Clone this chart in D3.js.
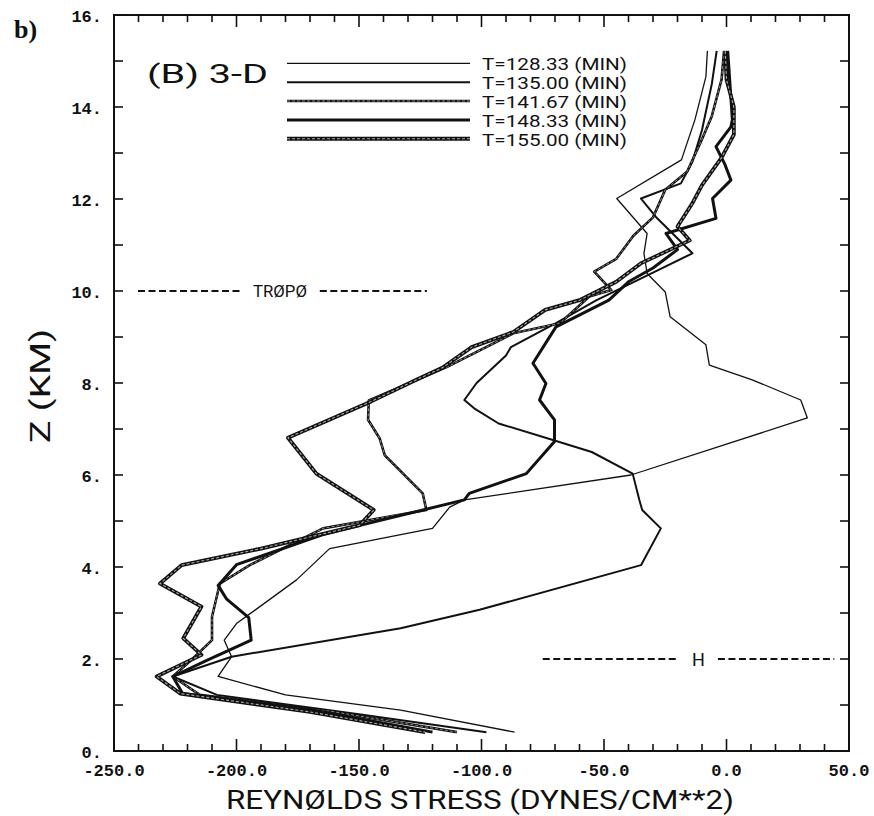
<!DOCTYPE html>
<html>
<head>
<meta charset="utf-8">
<script src="https://cdn.jsdelivr.net/npm/d3@7"></script>
<style>
  body { margin: 0; background: #fff; }
  svg { display: block; }
  .tick-lab { font-family: "Liberation Mono", "DejaVu Sans Mono", monospace; font-weight: bold; font-size: 17px; fill: #111; }
  .plot-txt { font-family: Roboto, "DejaVu Sans", sans-serif; font-weight: 400; fill: #111; }
</style>
</head>
<body>
<svg id="chart" width="874" height="816"></svg>
<script>
// reynolds stress profiles, values as [stress, z]
const timeLabels = ['T=128.33 (MIN)', 'T=135.00 (MIN)', 'T=141.67 (MIN)', 'T=148.33 (MIN)', 'T=155.00 (MIN)']

const t128 = [[-7.8, 15.22], [-8.4, 14.66], [-12.9, 13.72], [-18.4, 12.85], [-44.8, 12.01], [-32.4, 11.25],
  [-33.7, 10.82], [-32.4, 10.38], [-25, 9.98], [-23, 9.44], [-8.4, 8.83], [-7, 8.39], [10.5, 8.07], [30.3, 7.63],
  [33, 7.24], [-39, 6.0], [-107, 5.46], [-113, 5.3], [-120, 4.84], [-162, 4.4], [-175.5, 3.72], [-200, 2.77],
  [-205, 2.41], [-202, 2.05], [-207.5, 1.62], [-180, 1.22], [-133, 0.89], [-86.5, 0.41]]

const t135 = [[-4, 15.22], [-6, 14.5], [-10, 13.5], [-14, 12.8], [-18.6, 12.34], [-34.9, 12.01], [-28.8, 11.61],
  [-13.9, 10.82], [-30, 10.4], [-53, 9.8], [-69.6, 9.3], [-88, 8.78], [-90, 8.6], [-102, 8.0], [-107, 7.63],
  [-103, 7.45], [-93, 7.12], [-70.2, 6.75], [-55, 6.5], [-38.3, 6.03], [-35.6, 5.46], [-34.4, 5.24], [-26.8, 4.84],
  [-34.9, 4.04], [-100.8, 3.07], [-133, 2.67], [-202, 2.05], [-226, 1.62], [-208, 1.22], [-150, 0.8], [-98, 0.41]]

const t141 = [[-1, 15.22], [-2, 14.6], [-6, 13.8], [-10, 13.3], [-16, 12.6], [-25, 12.2], [-30, 11.6], [-38, 11.2],
  [-45, 10.7], [-54, 10.42], [-47, 10.02], [-56, 9.88], [-68, 9.3], [-87, 9.08], [-114, 8.35], [-146, 7.62],
  [-146.3, 7.2], [-141.6, 6.8], [-139.5, 6.43], [-124, 5.6], [-122.5, 5.24], [-164.7, 4.84], [-194.6, 4.04],
  [-206.8, 3.64], [-210, 2.92], [-210, 2.41], [-218, 2.0], [-226, 1.62], [-215, 1.22], [-160, 0.85], [-110, 0.41]]

const t148 = [[0.5, 15.22], [2.4, 13.72], [1.8, 13.57], [-4.3, 13.14], [-0.8, 12.77], [1.8, 12.41], [-5.7, 12.01],
  [-4.3, 11.58], [-24.7, 11.25], [-20, 10.9], [-30, 10.5], [-40, 10.2], [-48, 9.8], [-69.6, 9.22], [-79, 8.43],
  [-73.7, 7.99], [-76.3, 7.63], [-70.2, 7.2], [-70.2, 6.73], [-81.7, 6.03], [-105, 5.6], [-107, 5.46], [-150, 4.9],
  [-165, 4.7], [-200, 4.05], [-207.5, 3.6], [-204, 3.3], [-195, 2.9], [-194, 2.41], [-213, 1.95], [-226, 1.62],
  [-222, 1.25], [-170, 0.9], [-120, 0.41]]

const t155 = [[-0.5, 15.22], [0, 14.6], [3, 14.0], [3, 13.4], [-2, 12.9], [-10, 12.3], [-14, 11.9], [-20, 11.4],
  [-15, 11.1], [-35, 10.6], [-45, 10.2], [-60, 9.8], [-74, 9.59], [-87, 9.11], [-104, 8.78], [-116, 8.33],
  [-126.6, 8.07], [-145, 7.6], [-179, 6.81], [-167.4, 6.03], [-144, 5.24], [-149.7, 4.91], [-190, 4.4],
  [-222.4, 4.04], [-231.2, 3.64], [-214.3, 3.14], [-221.7, 2.45], [-214.3, 2.09], [-232.6, 1.62], [-223, 1.25],
  [-170, 0.85], [-123, 0.41]]

const xTicks = [-250, -200, -150, -100, -50, 0, 50]
const yTicks = [0, 2, 4, 6, 8, 10, 12, 14, 16]

const series = [t128, t135, t141, t148, t155]
// pen widths grow with time, the later ones are drawn as double strokes
const widths = [1.3, 2, 2.6, 3, 3.8]
const inner = [0, 0, 0.8, 0, 1.1]

const svg = d3.select('#chart')
const plotL = 114, plotR = 849, plotT = 15, plotB = 751

const x = d3.scaleLinear().domain([-250, 50]).range([plotL, plotR])
const y = d3.scaleLinear().domain([0, 16]).range([plotB, plotT])

// frame
svg.append('rect')
  .attr('x', plotL).attr('y', plotT)
  .attr('width', plotR - plotL).attr('height', plotB - plotT)
  .attr('fill', 'none').attr('stroke', '#111').attr('stroke-width', 2)

// minor + major ticks, all pointing inwards
const g = svg.append('g').attr('stroke', '#111').attr('stroke-width', 1.6)
d3.range(-250, 51, 10).forEach((v) => {
  const len = v % 50 === 0 ? 12 : 7
  g.append('line').attr('x1', x(v)).attr('x2', x(v)).attr('y1', plotB).attr('y2', plotB - len)
  g.append('line').attr('x1', x(v)).attr('x2', x(v)).attr('y1', plotT).attr('y2', plotT + len)
})
d3.range(0, 17, 1).forEach((v) => {
  g.append('line').attr('x1', plotL).attr('x2', plotL + 9).attr('y1', y(v)).attr('y2', y(v))
  g.append('line').attr('x1', plotR).attr('x2', plotR - 9).attr('y1', y(v)).attr('y2', y(v))
})

// tick labels
svg.selectAll('.ylab').data(yTicks).enter().append('text')
  .attr('class', 'tick-lab')
  .attr('x', 102).attr('y', (d) => y(d) + 7)
  .attr('text-anchor', 'end')
  .text((d) => d + '.')

svg.selectAll('.xlab').data(xTicks).enter().append('text')
  .attr('class', 'tick-lab')
  .attr('x', (d) => x(d)).attr('y', 776)
  .attr('text-anchor', 'middle')
  .text((d) => d.toFixed(1))

// axis titles
svg.append('text').attr('class', 'plot-txt')
  .attr('x', 226).attr('y', 809)
  .attr('font-size', 26)
  .attr('textLength', 508).attr('lengthAdjust', 'spacingAndGlyphs')
  .text('REYNØLDS STRESS (DYNES/CM**2)')

svg.append('text').attr('class', 'plot-txt')
  .attr('transform', 'translate(50,443) rotate(-90)')
  .attr('font-size', 28)
  .attr('textLength', 114).attr('lengthAdjust', 'spacingAndGlyphs')
  .text('Z (KM)')

svg.append('text')
  .attr('x', 14).attr('y', 38)
  .attr('font-family', '"Liberation Serif", "DejaVu Serif", serif')
  .attr('font-weight', 'bold').attr('font-size', 26)
  .attr('fill', '#111')
  .text('b)')

svg.append('text').attr('class', 'plot-txt')
  .attr('x', 147).attr('y', 83)
  .attr('font-size', 25)
  .attr('textLength', 121).attr('lengthAdjust', 'spacingAndGlyphs')
  .text('(B) 3-D')

// reference levels
function refLine(x0, x1, level) {
  svg.append('line')
    .attr('x1', x(x0)).attr('x2', x(x1)).attr('y1', y(level)).attr('y2', y(level))
    .attr('stroke', '#111').attr('stroke-width', 2).attr('stroke-dasharray', '7,3.5')
}
refLine(-240.2, -198.4, 10)
refLine(-166, -122.3, 10)
svg.append('text').attr('class', 'plot-txt')
  .attr('x', 253).attr('y', y(10) + 6).attr('font-size', 17)
  .attr('textLength', 54).attr('lengthAdjust', 'spacingAndGlyphs')
  .text('TRØPØ')
refLine(-75, -20, 2)
refLine(-3.5, 44, 2)
svg.append('text').attr('class', 'plot-txt')
  .attr('x', 692).attr('y', y(2) + 7).attr('font-size', 18)
  .text('H')

// profiles
const line = d3.line().x((d) => x(d[0])).y((d) => y(d[1]))
series.forEach((s, i) => {
  svg.append('path').datum(s)
    .attr('d', line)
    .attr('fill', 'none').attr('stroke', '#111')
    .attr('stroke-width', widths[i]).attr('stroke-linejoin', 'round')
  if (inner[i] > 0) {
    svg.append('path').datum(s)
      .attr('d', line)
      .attr('fill', 'none').attr('stroke', '#aaa')
      .attr('stroke-width', inner[i]).attr('stroke-dasharray', '3,2')
  }
})

// legend
const legendY = [14.95, 14.54, 14.13, 13.72, 13.31]
timeLabels.forEach((lab, i) => {
  svg.append('line')
    .attr('x1', 287).attr('x2', 470).attr('y1', y(legendY[i])).attr('y2', y(legendY[i]))
    .attr('stroke', '#111').attr('stroke-width', widths[i])
  if (inner[i] > 0) {
    svg.append('line')
      .attr('x1', 287).attr('x2', 470).attr('y1', y(legendY[i])).attr('y2', y(legendY[i]))
      .attr('stroke', '#aaa').attr('stroke-width', inner[i]).attr('stroke-dasharray', '3,2')
  }
  svg.append('text').attr('class', 'plot-txt')
    .attr('x', 482).attr('y', y(legendY[i]) + 7)
    .attr('font-size', 17)
    .attr('textLength', 145).attr('lengthAdjust', 'spacingAndGlyphs')
    .text(lab)
})
</script>
</body>
</html>
